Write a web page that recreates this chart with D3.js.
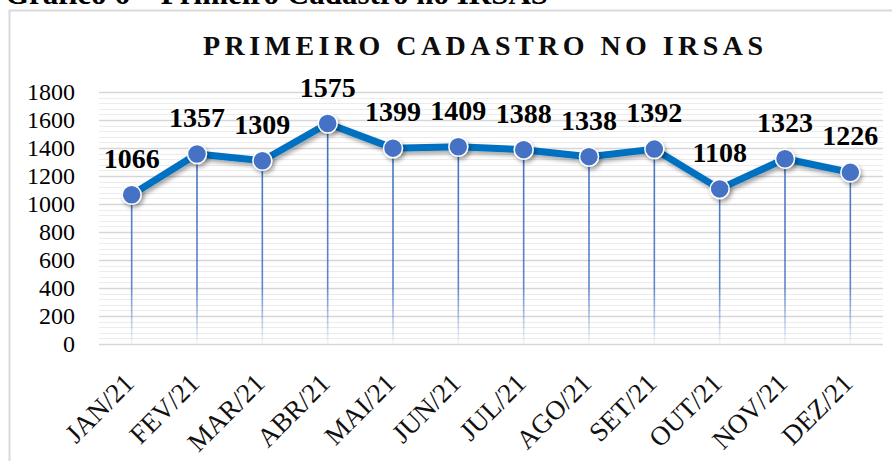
<!DOCTYPE html>
<html>
<head>
<meta charset="utf-8">
<script src="https://cdn.jsdelivr.net/npm/d3@7"></script>
<style>
  html, body { margin: 0; padding: 0; background: #fff; }
  svg { display: block; font-family: "Liberation Serif", "Times New Roman", serif; }
</style>
</head>
<body>
<div id="chart"></div>
<script>
const months = ['JAN/21', 'FEV/21', 'MAR/21', 'ABR/21', 'MAI/21', 'JUN/21', 'JUL/21', 'AGO/21', 'SET/21', 'OUT/21', 'NOV/21', 'DEZ/21'];
const cadastros = [1066, 1357, 1309, 1575, 1399, 1409, 1388, 1338, 1392, 1108, 1323, 1226];
const yTicks = [0, 200, 400, 600, 800, 1000, 1200, 1400, 1600, 1800];

const width = 892, height = 461;
const margin = {top: 92, right: 9, bottom: 117, left: 99};

const lineColor = '#0070C0';
const markerColor = '#4472C4';

const svg = d3.select('#chart')
  .append('svg')
  .attr('width', width)
  .attr('height', height);

const defs = svg.append('defs');

const dropGradient = defs.append('linearGradient')
  .attr('id', 'dropGradient')
  .attr('gradientUnits', 'userSpaceOnUse')
  .attr('x1', 0).attr('x2', 0)
  .attr('y1', 150).attr('y2', height - margin.bottom);
dropGradient.append('stop').attr('offset', '0%').attr('stop-color', markerColor).attr('stop-opacity', 1);
dropGradient.append('stop').attr('offset', '70%').attr('stop-color', markerColor).attr('stop-opacity', 0.85);
dropGradient.append('stop').attr('offset', '100%').attr('stop-color', markerColor).attr('stop-opacity', 0.05);

defs.append('filter')
  .attr('id', 'shadow')
  .attr('x', '-50%').attr('y', '-50%').attr('width', '200%').attr('height', '200%')
  .append('feDropShadow')
  .attr('dx', 2).attr('dy', 3)
  .attr('stdDeviation', 2)
  .attr('flood-color', 'rgba(0,0,0,0.35)');

// outer frame
svg.append('rect')
  .attr('x', 9.5).attr('y', 10.5)
  .attr('width', width).attr('height', height)
  .attr('fill', '#fff')
  .attr('stroke', '#d9d9d9')
  .attr('stroke-width', 2);

// caption above the frame, cut off by the top edge as in the source
svg.append('text')
  .attr('x', 5).attr('y', 4)
  .attr('font-size', 31)
  .attr('font-weight', 'bold')
  .attr('fill', '#000')
  .text('Gráfico 6 – Primeiro Cadastro no IRSAS');

svg.append('text')
  .attr('x', 483).attr('y', 55)
  .attr('text-anchor', 'middle')
  .attr('font-size', 28)
  .attr('font-weight', 'bold')
  .attr('textLength', 560)
  .attr('lengthAdjust', 'spacing')
  .attr('fill', '#0d0d0d')
  .text('PRIMEIRO CADASTRO NO IRSAS');

const x = d3.scaleBand()
  .domain(months)
  .range([margin.left, width - margin.right])
  .padding(0);

const y = d3.scaleLinear()
  .domain([0, 1800])
  .range([height - margin.bottom, margin.top]);

// minor + major grid
const minorTicks = d3.range(0, 1801, 40);
svg.append('g')
  .selectAll('line')
  .data(minorTicks)
  .join('line')
  .attr('x1', margin.left).attr('x2', width - margin.right)
  .attr('y1', d => Math.round(y(d)) + 0.5).attr('y2', d => Math.round(y(d)) + 0.5)
  .attr('stroke', d => d % 200 === 0 ? '#d6d6d6' : '#ececec')
  .attr('stroke-width', d => d % 200 === 0 ? 1.5 : 1);

// y axis labels
const yAxis = d3.axisLeft(y).tickValues(yTicks).tickFormat(d3.format('d')).tickSize(0).tickPadding(0);
const yg = svg.append('g')
  .attr('transform', `translate(${margin.left - 24},0)`)
  .call(yAxis);
yg.select('.domain').remove();
yg.selectAll('text')
  .attr('font-family', '"Liberation Serif", serif')
  .attr('font-size', 24)
  .attr('fill', '#000')
  .attr('dy', '0.33em');

// x axis labels
const xg = svg.append('g')
  .attr('transform', `translate(0,${height - margin.bottom})`)
  .call(d3.axisBottom(x).tickSize(0).tickPadding(0));
xg.select('.domain').remove();
xg.selectAll('text')
  .attr('font-family', '"Liberation Serif", serif')
  .attr('font-size', 27)
  .attr('fill', '#111')
  .attr('text-anchor', 'end')
  .attr('transform', 'translate(4,41) rotate(-45)')
  .attr('dy', 0)
  .attr('y', 0)
  .attr('x', 0);

const cx = d => x(d.month) + x.bandwidth() / 2;
const points = months.map((m, i) => ({month: m, value: cadastros[i]}));

// drop lines
svg.append('g')
  .selectAll('line')
  .data(points)
  .join('line')
  .attr('x1', cx).attr('x2', cx)
  .attr('y1', d => y(d.value))
  .attr('y2', y(0))
  .attr('stroke', 'url(#dropGradient)')
  .attr('stroke-width', 1.6);

// main line
const line = d3.line()
  .x(cx)
  .y(d => y(d.value));

svg.append('path')
  .datum(points)
  .attr('d', line)
  .attr('fill', 'none')
  .attr('stroke', lineColor)
  .attr('stroke-width', 7)
  .attr('stroke-linejoin', 'round')
  .style('filter', 'url(#shadow)');

// markers
svg.append('g')
  .selectAll('circle')
  .data(points)
  .join('circle')
  .attr('cx', cx)
  .attr('cy', d => y(d.value))
  .attr('r', 9.5)
  .attr('fill', markerColor)
  .attr('stroke', '#fff')
  .attr('stroke-width', 1.5)
  .style('filter', 'url(#shadow)');

// data labels
svg.append('g')
  .selectAll('text')
  .data(points)
  .join('text')
  .attr('x', cx)
  .attr('y', d => y(d.value) - 27)
  .attr('text-anchor', 'middle')
  .attr('font-size', 28)
  .attr('font-weight', 'bold')
  .attr('fill', '#000')
  .text(d => d.value);
</script>
</body>
</html>
